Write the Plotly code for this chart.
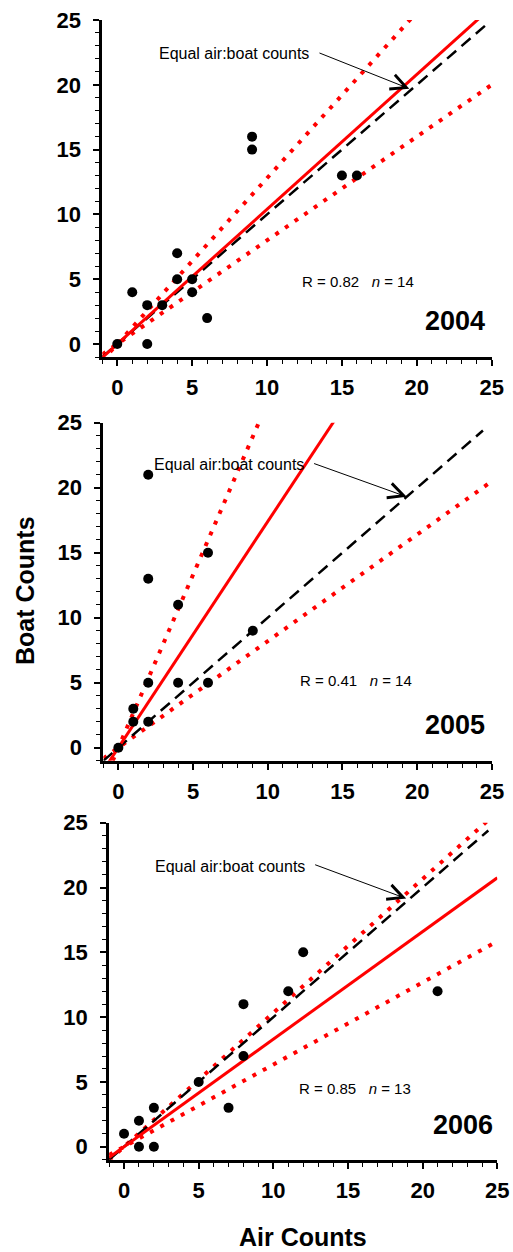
import plotly.graph_objects as go

# Survey comparison: air counts vs boat counts, one panel per year
years = ["2004", "2005", "2006"]

air_2004 = [0, 1, 2, 2, 3, 4, 4, 5, 5, 6, 9, 9, 15, 16]
boat_2004 = [0, 4, 3, 0, 3, 7, 5, 5, 4, 2, 16, 15, 13, 13]

air_2005 = [0, 1, 1, 2, 2, 2, 2, 4, 4, 6, 6, 9]
boat_2005 = [0, 2, 3, 2, 5, 13, 21, 5, 11, 15, 5, 9]

air_2006 = [0, 1, 1, 2, 2, 5, 7, 8, 8, 11, 12, 21]
boat_2006 = [1, 2, 0, 3, 0, 5, 3, 11, 7, 12, 15, 12]

air_counts = [air_2004, air_2005, air_2006]
boat_counts = [boat_2004, boat_2005, boat_2006]

# Regression through the origin (slope) with lower / upper bounds
fit_slope = [1.04, 1.74, 0.83]
bound_low = [0.80, 0.82, 0.634]
bound_high = [1.28, 2.66, 1.033]
identity_end = [24.8, 24.4, 24.4]

r_values = ["0.82", "0.41", "0.85"]
n_values = [14, 14, 13]

x_ticks = [0, 5, 10, 15, 20, 25]
y_ticks = [0, 5, 10, 15, 20, 25]
axis_range = [-1, 25]

W, H = 513, 1252
# panel boxes in pixels: left, right, top, bottom
boxes = [
    (102.3, 491.7, 20.0, 357.0),
    (103.4, 491.9, 422.7, 760.7),
    (109.1, 497.3, 822.7, 1159.7),
]

# text placement per panel (data units)
equal_text_pos = [(7.8, 22.4), (7.4, 21.8), (7.1, 21.6)]
arrow_tail = [(13.4, 22.5), (13.0, 21.9), (12.7, 21.8)]
arrow_head = [(19.5, 19.7), (19.3, 19.3), (18.9, 19.15)]
stat_text_pos = [(16.1, 4.8), (15.9, 5.2), (15.5, 4.5)]
year_text_pos = [(24.7, 1.8), (24.7, 1.75), (24.85, 1.7)]

RED = "#ff0000"
fig = go.Figure()

layout = dict(
    width=W, height=H,
    margin=dict(l=0, r=0, t=0, b=0, autoexpand=False),
    plot_bgcolor="white", paper_bgcolor="white",
    showlegend=False,
    font=dict(family="Liberation Sans, Arial, sans-serif", color="black"),
)

annotations = []
for i in range(3):
    sfx = "" if i == 0 else str(i + 1)
    xa, ya = "x" + sfx, "y" + sfx
    left, right, top, bottom = boxes[i]

    axis_common = dict(
        range=axis_range, showgrid=False, zeroline=False, automargin=False,
        showline=True, linecolor="black", linewidth=3,
        ticks="outside", ticklen=6, tickwidth=1.5, tickcolor="black",
        tickfont=dict(family="Liberation Sans, Arial", size=22, weight="bold", color="black"),
        minor=dict(dtick=1, tick0=0, ticks="outside", ticklen=4, tickwidth=1, tickcolor="black"),
    )
    layout["xaxis" + sfx] = dict(
        axis_common, domain=[left / W, right / W], anchor=ya,
        tickvals=x_ticks, ticktext=[str(v) for v in x_ticks], ticklabelstandoff=3,
    )
    layout["yaxis" + sfx] = dict(
        axis_common, domain=[1 - bottom / H, 1 - top / H], anchor=xa,
        tickvals=y_ticks, ticktext=[str(v) for v in y_ticks], ticklabelstandoff=8,
    )

    # upper and lower dotted bounds
    for b in (bound_high[i], bound_low[i]):
        fig.add_trace(go.Scatter(
            x=[-1, 25], y=[-b, 25 * b], mode="lines", xaxis=xa, yaxis=ya,
            line=dict(color=RED, width=4, dash="4px,7.7px"), hoverinfo="skip",
        ))
    # 1:1 line
    fig.add_trace(go.Scatter(
        x=[-1, identity_end[i]], y=[-1, identity_end[i]], mode="lines", xaxis=xa, yaxis=ya,
        line=dict(color="black", width=2.5, dash="12px,7px"), hoverinfo="skip",
    ))
    # fitted line
    s = fit_slope[i]
    fig.add_trace(go.Scatter(
        x=[-1, 25], y=[-s, 25 * s], mode="lines", xaxis=xa, yaxis=ya,
        line=dict(color=RED, width=3), hoverinfo="skip",
    ))
    # observations
    fig.add_trace(go.Scatter(
        x=air_counts[i], y=boat_counts[i], mode="markers", xaxis=xa, yaxis=ya,
        marker=dict(color="black", size=10), cliponaxis=False,
    ))

    annotations.append(dict(
        xref=xa, yref=ya, x=equal_text_pos[i][0], y=equal_text_pos[i][1],
        text="Equal air:boat counts", showarrow=False,
        font=dict(size=16, color="black"), xanchor="center", yanchor="middle",
    ))
    annotations.append(dict(
        xref=xa, yref=ya, x=arrow_head[i][0], y=arrow_head[i][1],
        axref=xa, ayref=ya, ax=arrow_tail[i][0], ay=arrow_tail[i][1],
        text="", showarrow=True, arrowhead=5, arrowsize=3, arrowwidth=1,
        arrowcolor="black", standoff=0,
    ))
    annotations.append(dict(
        xref=xa, yref=ya, x=stat_text_pos[i][0], y=stat_text_pos[i][1],
        text=f"R = {r_values[i]}&nbsp;&nbsp;&nbsp;<i>n</i> = {n_values[i]}",
        showarrow=False, font=dict(size=15, color="black"),
        xanchor="center", yanchor="middle",
    ))
    annotations.append(dict(
        xref=xa, yref=ya, x=year_text_pos[i][0], y=year_text_pos[i][1],
        text=years[i], showarrow=False,
        font=dict(size=27, weight="bold", color="black"),
        xanchor="right", yanchor="middle",
    ))

annotations.append(dict(
    xref="paper", yref="paper", x=25 / W, y=1 - 591 / H,
    text="Boat Counts", textangle=-90, showarrow=False,
    font=dict(size=25, weight="bold", color="black"),
    xanchor="center", yanchor="middle",
))
annotations.append(dict(
    xref="paper", yref="paper", x=303 / W, y=1 - 1237 / H,
    text="Air Counts", showarrow=False,
    font=dict(size=25, weight="bold", color="black"),
    xanchor="center", yanchor="middle",
))

layout["annotations"] = annotations
fig.update_layout(**layout)
fig.write_html("out.html")
